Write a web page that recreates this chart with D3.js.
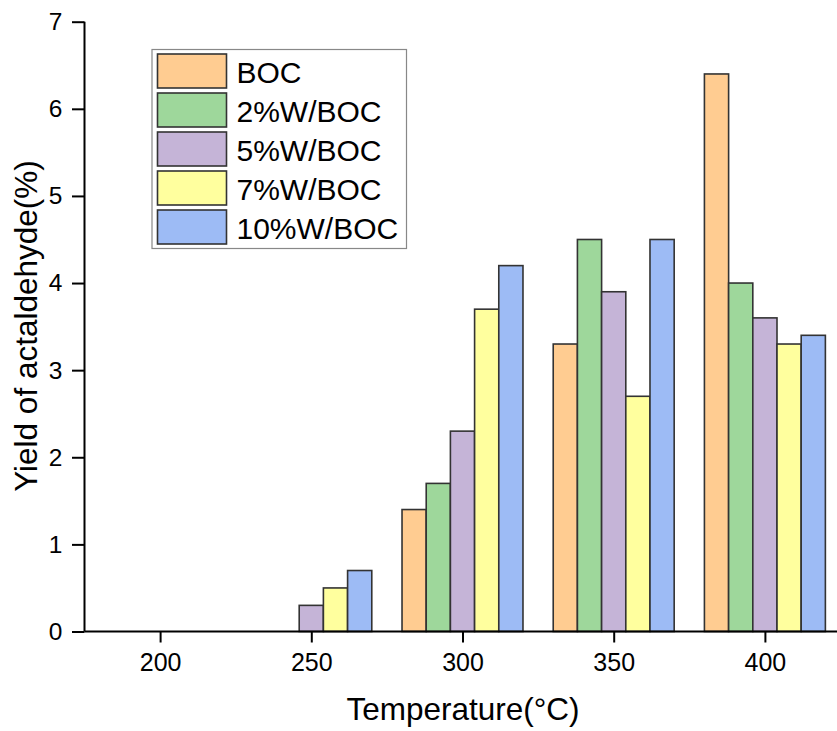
<!DOCTYPE html>
<html>
<head>
<meta charset="utf-8">
<script src="https://cdn.jsdelivr.net/npm/d3@7"></script>
<style>
  body { margin: 0; background: #fff; }
  svg { display: block; font-family: Arial, "Liberation Sans", sans-serif; }
</style>
</head>
<body>
<script>
// temperatures (x categories) and series names
var temps = [200, 250, 300, 350, 400];
var seriesNames = ["BOC", "2%W/BOC", "5%W/BOC", "7%W/BOC", "10%W/BOC"];

// yield of acetaldehyde (%) per series, one value per temperature
var boc  = [0, 0,   1.4, 3.3, 6.4];
var w2   = [0, 0,   1.7, 4.5, 4.0];
var w5   = [0, 0.3, 2.3, 3.9, 3.6];
var w7   = [0, 0.5, 3.7, 2.7, 3.3];
var w10  = [0, 0.7, 4.2, 4.5, 3.4];

var yTicks = [0, 1, 2, 3, 4, 5, 6, 7];
var xTicks = [200, 250, 300, 350, 400];

var colors = ["#ffcc91", "#9ed79b", "#c5b4d7", "#ffff9e", "#9dbbf5"];
var allSeries = [boc, w2, w5, w7, w10];

var width = 837, height = 731;

var svg = d3.select("body").append("svg")
    .attr("width", width)
    .attr("height", height);

// x is a linear temperature axis, cut off at the right edge
var x = d3.scaleLinear().domain([175, 425]).range([84.5, 840.5]);
var y = d3.scaleLinear().domain([0, 7]).range([631.5, 21.7]);

// each group is 40 degrees wide, 8 per bar
var barW = 8;

var bars = [];
allSeries.forEach(function(vals, s) {
    vals.forEach(function(v, i) {
        if (v > 0) bars.push({ s: s, t: temps[i], v: v });
    });
});

svg.append("g").selectAll("rect")
    .data(bars)
    .enter().append("rect")
    .attr("x", function(d) { return x(d.t - 20 + barW * d.s); })
    .attr("width", function(d) { return x(d.t - 20 + barW * (d.s + 1)) - x(d.t - 20 + barW * d.s); })
    .attr("y", function(d) { return y(d.v); })
    .attr("height", function(d) { return y(0) - y(d.v); })
    .attr("fill", function(d) { return colors[d.s]; })
    .attr("stroke", "#333")
    .attr("stroke-width", 1.6);

// y axis
var yAxis = svg.append("g").attr("transform", "translate(" + x(175) + ",0)");
yAxis.call(d3.axisLeft(y).tickValues(d3.range(0.5, 7, 1)).tickSize(6).tickFormat(""));
yAxis.call(d3.axisLeft(y).tickValues(yTicks).tickSize(12.5).tickPadding(9.5).tickFormat(d3.format("d")));
yAxis.selectAll(".domain").attr("stroke", "#000").attr("stroke-width", 2).attr("d", "M0," + y(7) + "V" + y(0));
yAxis.selectAll(".tick line").attr("stroke", "#000").attr("stroke-width", 2);
yAxis.selectAll("text").attr("font-size", 24.5).attr("fill", "#000")
    .attr("font-family", "Arial, 'Liberation Sans', sans-serif");

// x axis
var xAxis = svg.append("g").attr("transform", "translate(0," + y(0) + ")");
xAxis.call(d3.axisBottom(x).tickValues([175, 225, 275, 325, 375, 425]).tickSize(6).tickFormat(""));
xAxis.call(d3.axisBottom(x).tickValues(xTicks).tickSize(11).tickPadding(11).tickFormat(d3.format("d")));
xAxis.selectAll(".domain").attr("stroke", "#000").attr("stroke-width", 2).attr("d", "M" + x(175) + ",0H" + x(425));
xAxis.selectAll(".tick line").attr("stroke", "#000").attr("stroke-width", 2);
xAxis.selectAll("text").attr("font-size", 25).attr("fill", "#000")
    .attr("font-family", "Arial, 'Liberation Sans', sans-serif");

// axis titles
svg.append("text")
    .attr("x", 463).attr("y", 720)
    .attr("text-anchor", "middle")
    .attr("font-size", 31.5)
    .text("Temperature(°C)");

svg.append("text")
    .attr("transform", "translate(37,326) rotate(-90)")
    .attr("text-anchor", "middle")
    .attr("font-size", 31.5)
    .text("Yield of actaldehyde(%)");

// legend
var legend = svg.append("g");
legend.append("rect")
    .attr("x", 152).attr("y", 49.5)
    .attr("width", 254.5).attr("height", 199)
    .attr("fill", "#fff")
    .attr("stroke", "#888")
    .attr("stroke-width", 1.2);

var rows = legend.selectAll("g.row")
    .data(seriesNames)
    .enter().append("g")
    .attr("class", "row")
    .attr("transform", function(d, i) { return "translate(0," + (54 + i * 39) + ")"; });

rows.append("rect")
    .attr("x", 157.5).attr("y", 0)
    .attr("width", 69).attr("height", 34)
    .attr("fill", function(d, i) { return colors[i]; })
    .attr("stroke", "#333")
    .attr("stroke-width", 1.6);

rows.append("text")
    .attr("x", 236.5).attr("y", 28.5)
    .attr("font-size", 30)
    .text(function(d) { return d; });
</script>
</body>
</html>
